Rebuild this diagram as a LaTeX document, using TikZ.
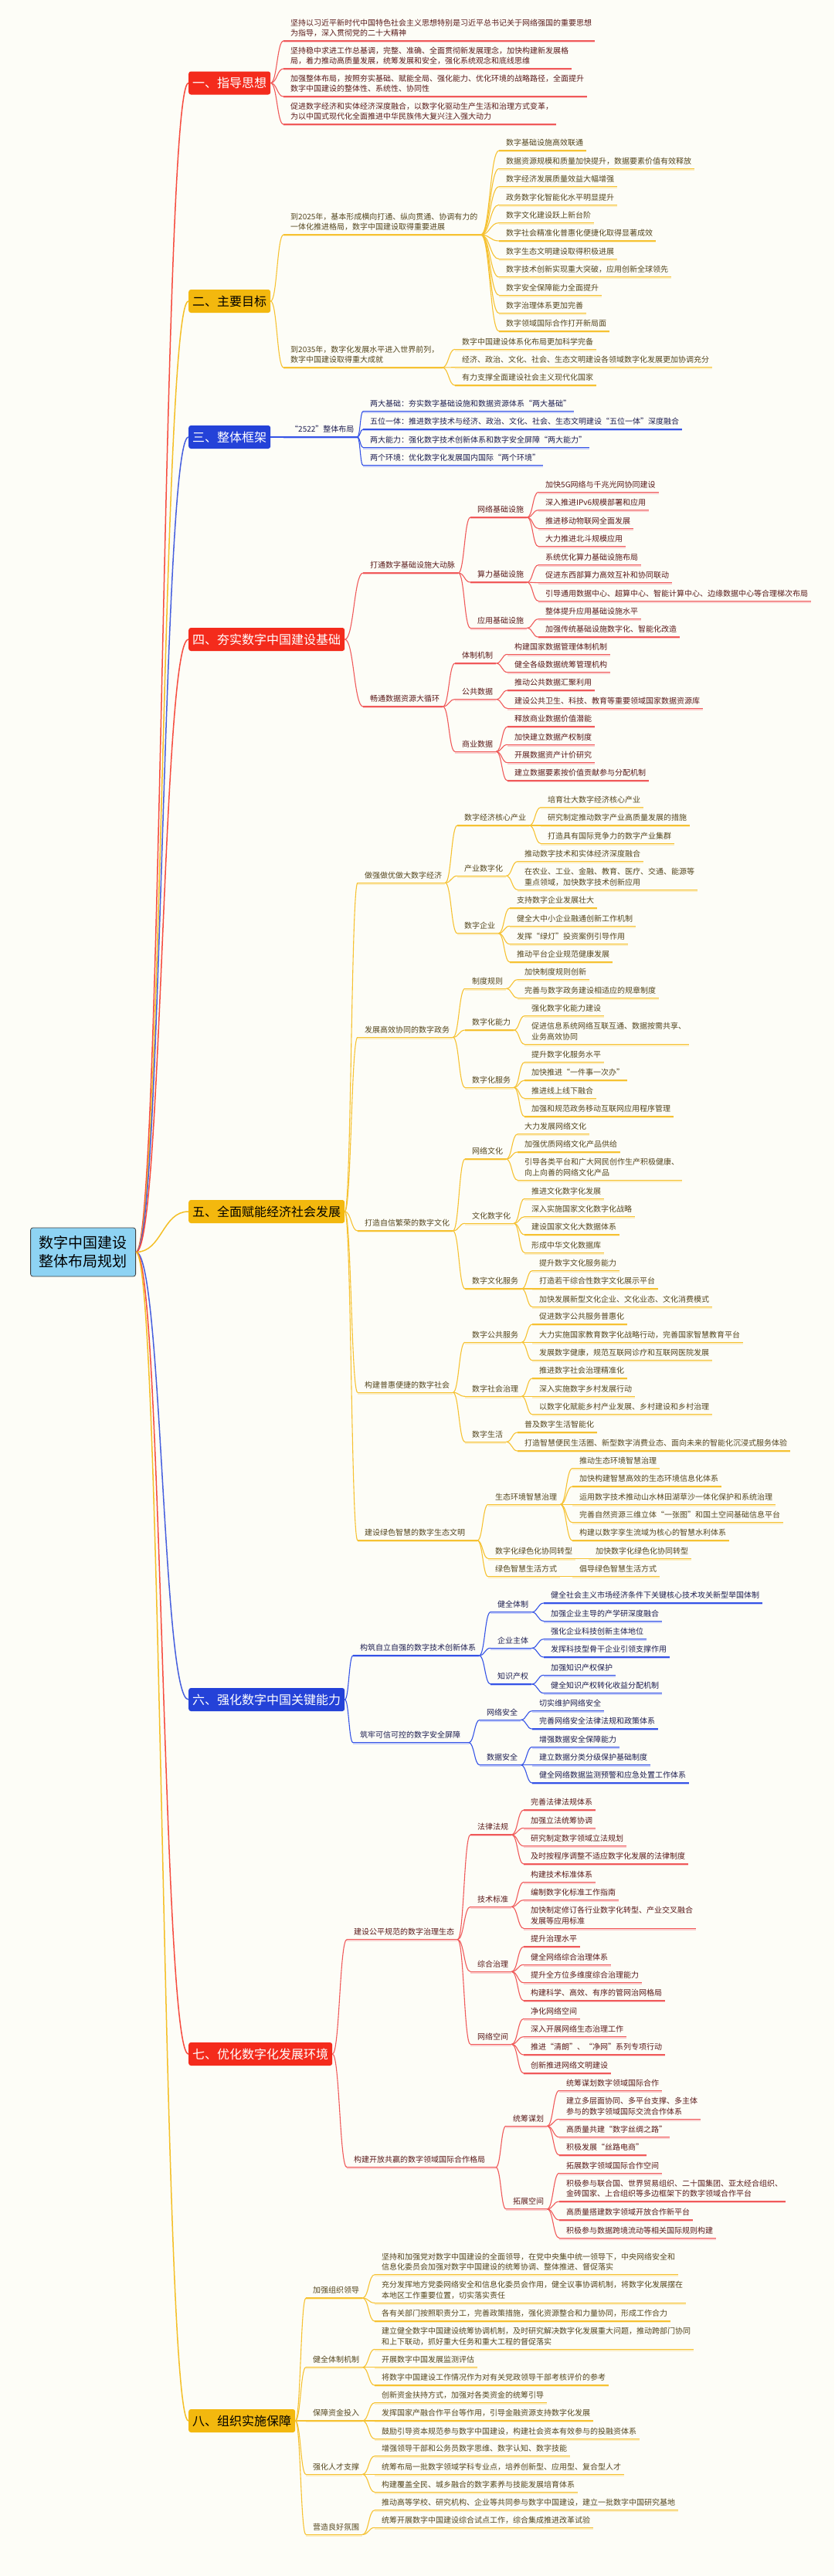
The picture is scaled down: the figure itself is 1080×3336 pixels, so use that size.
\documentclass[tikz,border=0pt]{standalone}
\usepackage{fontspec}
\setmainfont{Noto Sans CJK SC}
\usetikzlibrary{calc}
\definecolor{bgc}{HTML}{FDFDF7}
\definecolor{secR}{HTML}{F42B1C}
\definecolor{secY}{HTML}{F3B80E}
\definecolor{secB}{HTML}{2442D8}
\definecolor{lnR}{HTML}{F05A5A}
\definecolor{lnY}{HTML}{F6C232}
\definecolor{lnB}{HTML}{3553E6}
\definecolor{txR}{HTML}{5A1A1A}
\definecolor{txY}{HTML}{54461E}
\definecolor{txB}{HTML}{1E1E50}
\definecolor{rootc}{HTML}{8ED3F3}
\newcommand\Nd[5]{%
  \node[txt#1,anchor=south west] (#2) at (#3,#4-4.5) {#5};
  \coordinate (#2-L) at (#3-9,#4);
  \path let \p1=(#2.east), \p2=(#2-L) in coordinate (#2-R) at (\x1+4pt,\y2);
  \draw[shd#1] ($(#2-L)+(0,1.4)$) -- ($(#2-R)+(0,1.4)$);
  \draw[uln#1] (#2-L) -- (#2-R);
}
\newcommand\Ext[3]{% extend underline of node #2 to x=#3
  \path let \p2=(#2-L) in coordinate (#2-R) at (#3pt,\y2);
  \draw[shd#1] ($(#2-L)+(0,1.4)$) -- ($(#2-R)+(0,1.4)$);
  \draw[uln#1] (#2-L) -- (#2-R);
}
\newcommand\Cn[3]{\draw[con#1] let \p1=(#2), \p2=(#3) in (\p1) .. controls ({(\x1+\x2)/2},\y1) and ({(\x1+\x2)/2},\y2) .. (\p2);}
\newcommand\Cns[3]{\foreach \k in {#3}{\Cn{#1}{#2}{\k-L}}}
\begin{document}
\begin{tikzpicture}[x=1pt,y=-1pt,
  txtr/.style={font=\fontsize{10}{13.3}\selectfont,text=txR,inner sep=0pt,text depth=1.5pt,align=left},
  txty/.style={font=\fontsize{10}{13.3}\selectfont,text=txY,inner sep=0pt,text depth=1.5pt,align=left},
  txtb/.style={font=\fontsize{10}{13.3}\selectfont,text=txB,inner sep=0pt,text depth=1.5pt,align=left},
  ulnr/.style={draw=lnR,line width=1.3pt},
  ulny/.style={draw=lnY,line width=1.3pt},
  ulnb/.style={draw=lnB,line width=1.3pt},
  shdr/.style={draw=lnR!30,line width=1.8pt},
  shdy/.style={draw=lnY!30,line width=1.8pt},
  shdb/.style={draw=lnB!30,line width=1.8pt},
  conr/.style={draw=lnR,line width=1.1pt},
  cony/.style={draw=lnY,line width=1.1pt},
  conb/.style={draw=lnB,line width=1.1pt},
  conR/.style={draw=secR!85,line width=1.5pt},
  conY/.style={draw=secY!90,line width=1.5pt},
  conB/.style={draw=secB!85,line width=1.5pt},
  secbox/.style={font=\fontsize{16}{16}\selectfont,rounded corners=3pt,inner xsep=5pt,inner ysep=0pt,minimum height=30pt,anchor=west},
  secr/.style={secbox,fill=secR,text=white},
  secy/.style={secbox,fill=secY,text=black},
  secb/.style={secbox,fill=secB,text=white},
  rootbox/.style={fill=rootc,draw=black!75,line width=0.8pt,rounded corners=3pt,font=\fontsize{19}{24}\selectfont,align=center,inner xsep=11pt,minimum height=63pt,anchor=east,text=black}
]
\fill[bgc] (0,0) rectangle (1080,3336);
\useasboundingbox (0,0) rectangle (1080,3336);

% root and sections
\node[rootbox] (root) at (176,1621.5) {数字中国建设\\整体布局规划};
\node[secr] (s1) at (244,107.5) {一、指导思想};
\node[secy] (s2) at (244,390) {二、主要目标};
\node[secb] (s3) at (244,566) {三、整体框架};
\node[secr] (s4) at (244,828) {四、夯实数字中国建设基础};
\node[secy] (s5) at (244,1569) {五、全面赋能经济社会发展};
\node[secb] (s6) at (244,2201) {六、强化数字中国关键能力};
\node[secr] (s7) at (244,2660) {七、优化数字化发展环境};
\node[secy] (s8) at (244,3135) {八、组织实施保障};
\Cn{R}{root.east}{s1.west}
\Cn{Y}{root.east}{s2.west}
\Cn{B}{root.east}{s3.west}
\Cn{R}{root.east}{s4.west}
\Cn{Y}{root.east}{s5.west}
\Cn{B}{root.east}{s6.west}
\Cn{R}{root.east}{s7.west}
\Cn{Y}{root.east}{s8.west}

% ===== 一
\Nd{r}{a1}{376}{53}{坚持以习近平新时代中国特色社会主义思想特别是习近平总书记关于网络强国的重要思想\\为指导，深入贯彻党的二十大精神}
\Nd{r}{a2}{376}{89}{坚持稳中求进工作总基调，完整、准确、全面贯彻新发展理念，加快构建新发展格\\局，着力推动高质量发展，统筹发展和安全，强化系统观念和底线思维}
\Nd{r}{a3}{376}{125}{加强整体布局，按照夯实基础、赋能全局、强化能力、优化环境的战略路径，全面提升\\数字中国建设的整体性、系统性、协同性}
\Nd{r}{a4}{376}{161}{促进数字经济和实体经济深度融合，以数字化驱动生产生活和治理方式变革，\\为以中国式现代化全面推进中华民族伟大复兴注入强大动力}
\Cns{r}{s1.east}{a1,a2,a3,a4}

% ===== 二
\Nd{y}{b1}{376}{304}{到2025年，基本形成横向打通、纵向贯通、协调有力的\\一体化推进格局，数字中国建设取得重要进展}
\Nd{y}{b1a}{655}{195}{数字基础设施高效联通}
\Nd{y}{b1b}{655}{218.4}{数据资源规模和质量加快提升，数据要素价值有效释放}
\Nd{y}{b1c}{655}{241.8}{数字经济发展质量效益大幅增强}
\Nd{y}{b1d}{655}{265.2}{政务数字化智能化水平明显提升}
\Nd{y}{b1e}{655}{288.6}{数字文化建设跃上新台阶}
\Nd{y}{b1f}{655}{312}{数字社会精准化普惠化便捷化取得显著成效}
\Nd{y}{b1g}{655}{335.4}{数字生态文明建设取得积极进展}
\Nd{y}{b1h}{655}{358.8}{数字技术创新实现重大突破，应用创新全球领先}
\Nd{y}{b1i}{655}{382.2}{数字安全保障能力全面提升}
\Nd{y}{b1j}{655}{405.6}{数字治理体系更加完善}
\Nd{y}{b1k}{655}{429}{数字领域国际合作打开新局面}
\Nd{y}{b2}{376}{476}{到2035年，数字化发展水平进入世界前列，\\数字中国建设取得重大成就}
\Nd{y}{b2a}{598}{452.3}{数字中国建设体系化布局更加科学完备}
\Nd{y}{b2b}{598}{475.7}{经济、政治、文化、社会、生态文明建设各领域数字化发展更加协调充分}
\Nd{y}{b2c}{598}{499}{有力支撑全面建设社会主义现代化国家}
\Cns{y}{s2.east}{b1,b2}
\Cns{y}{b1-R}{b1a,b1b,b1c,b1d,b1e,b1f,b1g,b1h,b1i,b1j,b1k}
\Cns{y}{b2-R}{b2a,b2b,b2c}

% ===== 三
\Nd{b}{c0}{376}{566}{“2522”整体布局}
\Nd{b}{c1}{479}{532.7}{两大基础：夯实数字基础设施和数据资源体系“两大基础”}
\Nd{b}{c2}{479}{556}{五位一体：推进数字技术与经济、政治、文化、社会、生态文明建设“五位一体”深度融合}
\Nd{b}{c3}{479}{579.3}{两大能力：强化数字技术创新体系和数字安全屏障“两大能力”}
\Nd{b}{c4}{479}{602.7}{两个环境：优化数字化发展国内国际“两个环境”}
\Cn{b}{s3.east}{c0-L}
\Cns{b}{c0-R}{c1,c2,c3,c4}

% ===== 四
\Nd{r}{d1}{479}{742}{打通数字基础设施大动脉}
\Nd{r}{d11}{618}{670}{网络基础设施}
\Nd{r}{d111}{706}{637.3}{加快5G网络与千兆光网协同建设}
\Nd{r}{d112}{706}{660.7}{深入推进IPv6规模部署和应用}
\Nd{r}{d113}{706}{684.3}{推进移动物联网全面发展}
\Nd{r}{d114}{706}{707.7}{大力推进北斗规模应用}
\Nd{r}{d12}{618}{754}{算力基础设施}
\Nd{r}{d121}{706}{731.7}{系统优化算力基础设施布局}
\Nd{r}{d122}{706}{754.7}{促进东西部算力高效互补和协同联动}
\Nd{r}{d123}{706}{778.3}{引导通用数据中心、超算中心、智能计算中心、边缘数据中心等合理梯次布局}
\Nd{r}{d13}{618}{813.3}{应用基础设施}
\Nd{r}{d131}{706}{801.7}{整体提升应用基础设施水平}
\Nd{r}{d132}{706}{825}{加强传统基础设施数字化、智能化改造}
\Nd{r}{d2}{479}{915}{畅通数据资源大循环}
\Nd{r}{d21}{598}{859}{体制机制}
\Nd{r}{d211}{666}{847.3}{构建国家数据管理体制机制}
\Nd{r}{d212}{666}{870.7}{健全各级数据统筹管理机构}
\Nd{r}{d22}{598}{905.7}{公共数据}
\Nd{r}{d221}{666}{894}{推动公共数据汇聚利用}
\Nd{r}{d222}{666}{917.3}{建设公共卫生、科技、教育等重要领域国家数据资源库}
\Nd{r}{d23}{598}{973.3}{商业数据}
\Nd{r}{d231}{666}{941}{释放商业数据价值潜能}
\Nd{r}{d232}{666}{964.3}{加快建立数据产权制度}
\Nd{r}{d233}{666}{987.7}{开展数据资产计价研究}
\Nd{r}{d234}{666}{1011}{建立数据要素按价值贡献参与分配机制}
\Cns{r}{s4.east}{d1,d2}
\Cns{r}{d1-R}{d11,d12,d13}
\Cns{r}{d11-R}{d111,d112,d113,d114}
\Cns{r}{d12-R}{d121,d122,d123}
\Cns{r}{d13-R}{d131,d132}
\Cns{r}{d2-R}{d21,d22,d23}
\Cns{r}{d21-R}{d211,d212}
\Cns{r}{d22-R}{d221,d222}
\Cns{r}{d23-R}{d231,d232,d233,d234}

% ===== 五
\Nd{y}{e1}{472}{1143.3}{做强做优做大数字经济}
\Nd{y}{e11}{601}{1069}{数字经济核心产业}
\Nd{y}{e111}{709}{1045.7}{培育壮大数字经济核心产业}
\Nd{y}{e112}{709}{1069}{研究制定推动数字产业高质量发展的措施}
\Nd{y}{e113}{709}{1092.3}{打造具有国际竞争力的数字产业集群}
\Nd{y}{e12}{601}{1134.3}{产业数字化}
\Nd{y}{e121}{679}{1115.7}{推动数字技术和实体经济深度融合}
\Nd{y}{e122}{679}{1152.3}{在农业、工业、金融、教育、医疗、交通、能源等\\重点领域，加快数字技术创新应用}
\Nd{y}{e13}{601}{1208.7}{数字企业}
\Nd{y}{e131}{669}{1176}{支持数字企业发展壮大}
\Nd{y}{e132}{669}{1199.3}{健全大中小企业融通创新工作机制}
\Nd{y}{e133}{669}{1222.7}{发挥“绿灯”投资案例引导作用}
\Nd{y}{e134}{669}{1246}{推动平台企业规范健康发展}
\Nd{y}{e2}{472}{1343.3}{发展高效协同的数字政务}
\Nd{y}{e21}{611}{1280.3}{制度规则}
\Nd{y}{e211}{679}{1268.7}{加快制度规则创新}
\Nd{y}{e212}{679}{1292.3}{完善与数字政务建设相适应的规章制度}
\Nd{y}{e22}{611}{1334}{数字化能力}
\Nd{y}{e221}{688}{1315.7}{强化数字化能力建设}
\Nd{y}{e222}{688}{1352.3}{促进信息系统网络互联互通、数据按需共享、\\业务高效协同}
\Nd{y}{e23}{611}{1408.3}{数字化服务}
\Nd{y}{e231}{688}{1375.7}{提升数字化服务水平}
\Nd{y}{e232}{688}{1399}{加快推进“一件事一次办”}
\Nd{y}{e233}{688}{1422.3}{推进线上线下融合}
\Nd{y}{e234}{688}{1446}{加强和规范政务移动互联网应用程序管理}
\Nd{y}{e3}{472}{1594}{打造自信繁荣的数字文化}
\Nd{y}{e31}{611}{1501}{网络文化}
\Nd{y}{e311}{679}{1468.7}{大力发展网络文化}
\Nd{y}{e312}{679}{1492}{加强优质网络文化产品供给}
\Nd{y}{e313}{679}{1528.3}{引导各类平台和广大网民创作生产积极健康、\\向上向善的网络文化产品}
\Nd{y}{e32}{611}{1584.3}{文化数字化}
\Nd{y}{e321}{688}{1552.3}{推进文化数字化发展}
\Nd{y}{e322}{688}{1575.7}{深入实施国家文化数字化战略}
\Nd{y}{e323}{688}{1599}{建设国家文化大数据体系}
\Nd{y}{e324}{688}{1622.3}{形成中华文化数据库}
\Nd{y}{e33}{611}{1669}{数字文化服务}
\Nd{y}{e331}{698}{1645.7}{提升数字文化服务能力}
\Nd{y}{e332}{698}{1669}{打造若干综合性数字文化展示平台}
\Nd{y}{e333}{698}{1692.3}{加快发展新型文化企业、文化业态、文化消费模式}
\Nd{y}{e4}{472}{1803.3}{构建普惠便捷的数字社会}
\Nd{y}{e41}{611}{1738.3}{数字公共服务}
\Nd{y}{e411}{698}{1715}{促进数字公共服务普惠化}
\Nd{y}{e412}{698}{1738.3}{大力实施国家教育数字化战略行动，完善国家智慧教育平台}
\Nd{y}{e413}{698}{1761.7}{发展数字健康，规范互联网诊疗和互联网医院发展}
\Nd{y}{e42}{611}{1808.3}{数字社会治理}
\Nd{y}{e421}{698}{1785}{推进数字社会治理精准化}
\Nd{y}{e422}{698}{1808.3}{深入实施数字乡村发展行动}
\Nd{y}{e423}{698}{1831.7}{以数字化赋能乡村产业发展、乡村建设和乡村治理}
\Nd{y}{e43}{611}{1867.3}{数字生活}
\Nd{y}{e431}{679}{1855}{普及数字生活智能化}
\Nd{y}{e432}{679}{1879}{打造智慧便民生活圈、新型数字消费业态、面向未来的智能化沉浸式服务体验}
\Nd{y}{e5}{472}{1995}{建设绿色智慧的数字生态文明}
\Ext{y}{e5}{618}
\Nd{y}{e51}{641}{1948.3}{生态环境智慧治理}
\Nd{y}{e511}{750}{1901.7}{推动生态环境智慧治理}
\Nd{y}{e512}{750}{1925}{加快构建智慧高效的生态环境信息化体系}
\Nd{y}{e513}{750}{1948.3}{运用数字技术推动山水林田湖草沙一体化保护和系统治理}
\Nd{y}{e514}{750}{1971.7}{完善自然资源三维立体“一张图”和国土空间基础信息平台}
\Nd{y}{e515}{750}{1995}{构建以数字孪生流域为核心的智慧水利体系}
\Nd{y}{e52}{641}{2018.3}{数字化绿色化协同转型}
\Nd{y}{e521}{771}{2018.3}{加快数字化绿色化协同转型}
\Nd{y}{e53}{641}{2041.7}{绿色智慧生活方式}
\Nd{y}{e531}{750}{2041.7}{倡导绿色智慧生活方式}
\Cns{y}{s5.east}{e1,e2,e3,e4,e5}
\Cns{y}{e1-R}{e11,e12,e13}
\Cns{y}{e11-R}{e111,e112,e113}
\Cns{y}{e12-R}{e121,e122}
\Cns{y}{e13-R}{e131,e132,e133,e134}
\Cns{y}{e2-R}{e21,e22,e23}
\Cns{y}{e21-R}{e211,e212}
\Cns{y}{e22-R}{e221,e222}
\Cns{y}{e23-R}{e231,e232,e233,e234}
\Cns{y}{e3-R}{e31,e32,e33}
\Cns{y}{e31-R}{e311,e312,e313}
\Cns{y}{e32-R}{e321,e322,e323,e324}
\Cns{y}{e33-R}{e331,e332,e333}
\Cns{y}{e4-R}{e41,e42,e43}
\Cns{y}{e41-R}{e411,e412,e413}
\Cns{y}{e42-R}{e421,e422,e423}
\Cns{y}{e43-R}{e431,e432}
\Cns{y}{e5-R}{e51,e52,e53}
\Cns{y}{e51-R}{e511,e512,e513,e514,e515}
\Cns{y}{e52-R}{e521}
\Cns{y}{e53-R}{e531}

% ===== 六
\Nd{b}{f1}{466}{2144}{构筑自立自强的数字技术创新体系}
\Nd{b}{f11}{644}{2087.7}{健全体制}
\Nd{b}{f111}{713}{2076}{健全社会主义市场经济条件下关键核心技术攻关新型举国体制}
\Nd{b}{f112}{713}{2099.3}{加强企业主导的产学研深度融合}
\Nd{b}{f12}{644}{2134.3}{企业主体}
\Nd{b}{f121}{713}{2122.7}{强化企业科技创新主体地位}
\Nd{b}{f122}{713}{2146}{发挥科技型骨干企业引领支撑作用}
\Nd{b}{f13}{644}{2181}{知识产权}
\Nd{b}{f131}{713}{2169.3}{加强知识产权保护}
\Nd{b}{f132}{713}{2192.7}{健全知识产权转化收益分配机制}
\Nd{b}{f2}{466}{2256.7}{筑牢可信可控的数字安全屏障}
\Ext{b}{f2}{607}
\Nd{b}{f21}{630}{2227.3}{网络安全}
\Nd{b}{f211}{698}{2215.7}{切实维护网络安全}
\Nd{b}{f212}{698}{2239}{完善网络安全法律法规和政策体系}
\Nd{b}{f22}{630}{2285.7}{数据安全}
\Nd{b}{f221}{698}{2262.3}{增强数据安全保障能力}
\Nd{b}{f222}{698}{2285.7}{建立数据分类分级保护基础制度}
\Nd{b}{f223}{698}{2309}{健全网络数据监测预警和应急处置工作体系}
\Cns{b}{s6.east}{f1,f2}
\Cns{b}{f1-R}{f11,f12,f13}
\Cns{b}{f11-R}{f111,f112}
\Cns{b}{f12-R}{f121,f122}
\Cns{b}{f13-R}{f131,f132}
\Cns{b}{f2-R}{f21,f22}
\Cns{b}{f21-R}{f211,f212}
\Cns{b}{f22-R}{f221,f222,f223}

% ===== 七
\Nd{r}{g1}{458}{2511.7}{建设公平规范的数字治理生态}
\Nd{r}{g11}{618}{2376}{法律法规}
\Nd{r}{g111}{687}{2344}{完善法律法规体系}
\Nd{r}{g112}{687}{2367.3}{加强立法统筹协调}
\Nd{r}{g113}{687}{2390.7}{研究制定数字领域立法规划}
\Nd{r}{g114}{687}{2414}{及时按程序调整不适应数字化发展的法律制度}
\Nd{r}{g12}{618}{2469.3}{技术标准}
\Nd{r}{g121}{687}{2437.3}{构建技术标准体系}
\Nd{r}{g122}{687}{2460.7}{编制数字化标准工作指南}
\Nd{r}{g123}{687}{2497.3}{加快制定修订各行业数字化转型、产业交叉融合\\发展等应用标准}
\Nd{r}{g13}{618}{2553.3}{综合治理}
\Nd{r}{g131}{687}{2521}{提升治理水平}
\Nd{r}{g132}{687}{2544.3}{健全网络综合治理体系}
\Nd{r}{g133}{687}{2567.7}{提升全方位多维度综合治理能力}
\Nd{r}{g134}{687}{2591}{构建科学、高效、有序的管网治网格局}
\Nd{r}{g14}{618}{2647.3}{网络空间}
\Nd{r}{g141}{687}{2614.3}{净化网络空间}
\Nd{r}{g142}{687}{2637.7}{深入开展网络生态治理工作}
\Nd{r}{g143}{687}{2661}{推进“清朗”、“净网”系列专项行动}
\Nd{r}{g144}{687}{2685}{创新推进网络文明建设}
\Nd{r}{g2}{458}{2806.7}{构建开放共赢的数字领域国际合作格局}
\Ext{r}{g2}{642}
\Nd{r}{g21}{664}{2753.3}{统筹谋划}
\Nd{r}{g211}{733}{2707.3}{统筹谋划数字领域国际合作}
\Nd{r}{g212}{733}{2744.3}{建立多层面协同、多平台支撑、多主体\\参与的数字领域国际交流合作体系}
\Nd{r}{g213}{733}{2767.7}{高质量共建“数字丝绸之路”}
\Nd{r}{g214}{733}{2791}{积极发展“丝路电商”}
\Nd{r}{g22}{664}{2860.7}{拓展空间}
\Nd{r}{g221}{733}{2814.3}{拓展数字领域国际合作空间}
\Nd{r}{g222}{733}{2851}{积极参与联合国、世界贸易组织、二十国集团、亚太经合组织、\\金砖国家、上合组织等多边框架下的数字领域合作平台}
\Nd{r}{g223}{733}{2875}{高质量搭建数字领域开放合作新平台}
\Nd{r}{g224}{733}{2898.3}{积极参与数据跨境流动等相关国际规则构建}
\Cns{r}{s7.east}{g1,g2}
\Cns{r}{g1-R}{g11,g12,g13,g14}
\Cns{r}{g11-R}{g111,g112,g113,g114}
\Cns{r}{g12-R}{g121,g122,g123}
\Cns{r}{g13-R}{g131,g132,g133,g134}
\Cns{r}{g14-R}{g141,g142,g143,g144}
\Cns{r}{g2-R}{g21,g22}
\Cns{r}{g21-R}{g211,g212,g213,g214}
\Cns{r}{g22-R}{g221,g222,g223,g224}

% ===== 八
\Nd{y}{h1}{405}{2976}{加强组织领导}
\Nd{y}{h11}{494}{2945.7}{坚持和加强党对数字中国建设的全面领导，在党中央集中统一领导下，中央网络安全和\\信息化委员会加强对数字中国建设的统筹协调、整体推进、督促落实}
\Nd{y}{h12}{494}{2982.3}{充分发挥地方党委网络安全和信息化委员会作用，健全议事协调机制，将数字化发展摆在\\本地区工作重要位置，切实落实责任}
\Nd{y}{h13}{494}{3006}{各有关部门按照职责分工，完善政策措施，强化资源整合和力量协同，形成工作合力}
\Nd{y}{h2}{405}{3065.7}{健全体制机制}
\Nd{y}{h21}{494}{3042.3}{建立健全数字中国建设统筹协调机制，及时研究解决数字化发展重大问题，推动跨部门协同\\和上下联动，抓好重大任务和重大工程的督促落实}
\Nd{y}{h22}{494}{3065.7}{开展数字中国发展监测评估}
\Nd{y}{h23}{494}{3089}{将数字中国建设工作情况作为对有关党政领导干部考核评价的参考}
\Nd{y}{h3}{405}{3135}{保障资金投入}
\Nd{y}{h31}{494}{3111.7}{创新资金扶持方式，加强对各类资金的统筹引导}
\Nd{y}{h32}{494}{3135}{发挥国家产融合作平台等作用，引导金融资源支持数字化发展}
\Nd{y}{h33}{494}{3158.3}{鼓励引导资本规范参与数字中国建设，构建社会资本有效参与的投融资体系}
\Nd{y}{h4}{405}{3204.3}{强化人才支撑}
\Nd{y}{h41}{494}{3180.7}{增强领导干部和公务员数字思维、数字认知、数字技能}
\Nd{y}{h42}{494}{3204.3}{统筹布局一批数字领域学科专业点，培养创新型、应用型、复合型人才}
\Nd{y}{h43}{494}{3227.3}{构建覆盖全民、城乡融合的数字素养与技能发展培育体系}
\Nd{y}{h5}{405}{3282.3}{营造良好氛围}
\Nd{y}{h51}{494}{3250.7}{推动高等学校、研究机构、企业等共同参与数字中国建设，建立一批数字中国研究基地}
\Nd{y}{h52}{494}{3273.3}{统筹开展数字中国建设综合试点工作，综合集成推进改革试验}
\Cns{y}{s8.east}{h1,h2,h3,h4,h5}
\Cns{y}{h1-R}{h11,h12,h13}
\Cns{y}{h2-R}{h21,h22,h23}
\Cns{y}{h3-R}{h31,h32,h33}
\Cns{y}{h4-R}{h41,h42,h43}
\Cns{y}{h5-R}{h51,h52}
\end{tikzpicture}
\end{document}
